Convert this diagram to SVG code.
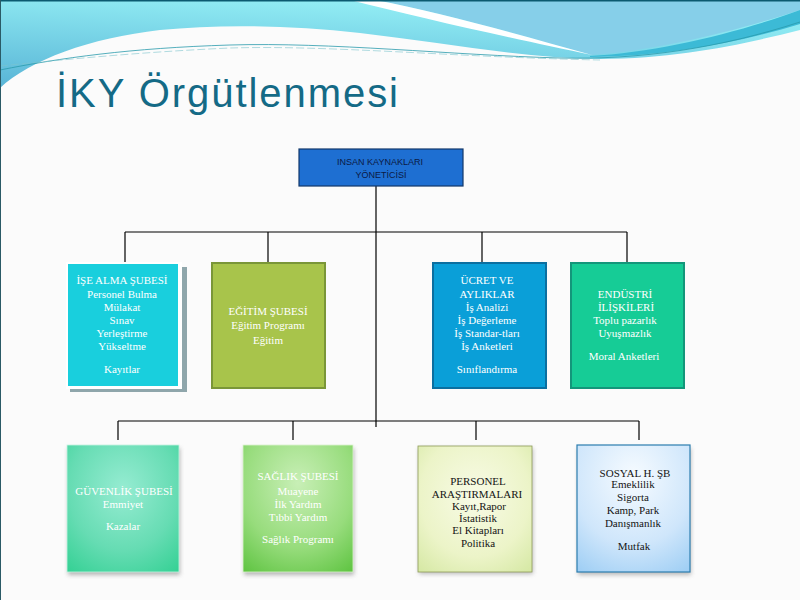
<svg xmlns="http://www.w3.org/2000/svg" width="800" height="600" viewBox="0 0 800 600">
<defs>
<style>
.t{font-family:"Liberation Serif","Times New Roman",serif;font-size:11px;text-anchor:middle}
.w{fill:#ffffff}
.d{fill:#141414}
.top{font-family:"Liberation Sans",Arial,sans-serif;font-size:9px;text-anchor:middle;fill:#0b1a44}
.ln{stroke:#000;stroke-width:1.2;fill:none}
</style>
<linearGradient id="cy" x1="0.4" y1="0" x2="0" y2="1">
<stop offset="0" stop-color="#92edf4"/>
<stop offset="1" stop-color="#58b4d6"/>
</linearGradient>
<radialGradient id="gGuv" cx="0.5" cy="0.35" r="0.8">
<stop offset="0" stop-color="#96ecd2"/>
<stop offset="0.6" stop-color="#66dcb3"/>
<stop offset="1" stop-color="#36d195"/>
</radialGradient>
<radialGradient id="gSag" cx="0.5" cy="0.3" r="0.85">
<stop offset="0" stop-color="#c8efb6"/>
<stop offset="0.6" stop-color="#97dc7c"/>
<stop offset="1" stop-color="#5fc442"/>
</radialGradient>
<radialGradient id="gPer" cx="0.5" cy="0.4" r="0.8">
<stop offset="0" stop-color="#f8fbe6"/>
<stop offset="0.6" stop-color="#ecf4c8"/>
<stop offset="1" stop-color="#d3e7a0"/>
</radialGradient>
<radialGradient id="gSos" cx="0.5" cy="0.25" r="0.9">
<stop offset="0" stop-color="#f6fbff"/>
<stop offset="0.6" stop-color="#cfe6fb"/>
<stop offset="1" stop-color="#9ccdf4"/>
</radialGradient>
<filter id="sh" x="-20%" y="-20%" width="140%" height="140%">
<feGaussianBlur stdDeviation="2"/>
</filter>
</defs>

<rect x="0" y="0" width="800" height="600" fill="#fbfbfb"/>

<g id="header">
<path d="M0,88 C30,60 90,38 160,30 C220,24 290,25 360,33 C440,42 520,58 600,59 C680,58 740,45 800,30 L800,0 L0,0 Z" fill="url(#cy)"/>
<path d="M375,0 C440,12 520,35 592,55 C660,50 740,30 800,10 L800,0 Z" fill="#86cfe9"/>
<path d="M590,56 C660,52 740,32 800,10 L800,24 C740,42 670,56 590,57 Z" fill="#3cbad6"/>
<path d="M350,0 C420,18 520,40 592,55 C520,35 440,12 375,0 Z" fill="#ffffff"/>
<path d="M0,70 C60,58 130,48 230,45 C330,42 450,55 560,58 C640,60 720,48 800,22" fill="none" stroke="#2a9aac" stroke-width="0.8"/>
<path d="M0,66 C60,60 140,52 230,48 C330,45 450,57 600,60" fill="none" stroke="#7cc4cc" stroke-width="0.6" stroke-dasharray="8 3"/>
<line x1="0" y1="0.75" x2="800" y2="0.75" stroke="#0b5a70" stroke-width="1.5"/>
<line x1="0.5" y1="0" x2="0.5" y2="600" stroke="#2a5a66" stroke-width="1"/>
<text x="56" y="107" font-family="'Liberation Sans',Arial,sans-serif" font-size="40" fill="#146a86" textLength="342" lengthAdjust="spacing">İKY Örgütlenmesi</text>
</g>

<g id="connectors">
<line class="ln" x1="376" y1="186" x2="376" y2="427"/>
<line class="ln" x1="125" y1="232" x2="627" y2="232"/>
<line class="ln" x1="125" y1="232" x2="125" y2="264"/>
<line class="ln" x1="268" y1="232" x2="268" y2="262"/>
<line class="ln" x1="482" y1="232" x2="482" y2="262"/>
<line class="ln" x1="627" y1="232" x2="627" y2="262"/>
<line class="ln" x1="118" y1="421" x2="639" y2="421"/>
<line class="ln" x1="118" y1="421" x2="118" y2="440"/>
<line class="ln" x1="293" y1="421" x2="293" y2="440"/>
<line class="ln" x1="476" y1="421" x2="476" y2="440"/>
<line class="ln" x1="639" y1="421" x2="639" y2="440"/>
</g>

<g id="node-top">
<rect x="299" y="149" width="164" height="37" fill="#1e6fd2" stroke="#12386a" stroke-width="1.2"/>
<text class="top" x="380" y="165">INSAN KAYNAKLARI</text>
<text class="top" x="381" y="178">YÖNETİCİSİ</text>
</g>

<g id="node-ise">
<rect x="70" y="267" width="117" height="125" fill="#8fa6ab"/>
<rect x="66" y="262" width="116" height="127" fill="#ffffff"/>
<rect x="68" y="264" width="110" height="122" fill="#19cfdd"/>
<text class="t w" x="122" y="283.5">İŞE ALMA ŞUBESİ</text>
<text class="t w" x="122" y="298">Personel Bulma</text>
<text class="t w" x="122" y="311">Mülakat</text>
<text class="t w" x="122" y="324">Sınav</text>
<text class="t w" x="122" y="337">Yerleştirme</text>
<text class="t w" x="122" y="350">Yükseltme</text>
<text class="t w" x="122" y="373">Kayıtlar</text>
</g>

<g id="node-egitim">
<rect x="212" y="263" width="113" height="125" fill="#a8c44b" stroke="#7a9638" stroke-width="2"/>
<text class="t w" x="268" y="315">EĞİTİM ŞUBESİ</text>
<text class="t w" x="268" y="328.5">Eğitim Programı</text>
<text class="t w" x="268" y="344">Eğitim</text>
</g>

<g id="node-ucret">
<rect x="433" y="263" width="113" height="125" fill="#0a9fd8" stroke="#0b6fa0" stroke-width="2"/>
<text class="t w" x="487" y="284">ÜCRET VE</text>
<text class="t w" x="487" y="297.5">AYLIKLAR</text>
<text class="t w" x="487" y="311">İş Analizi</text>
<text class="t w" x="487" y="324">İş Değerleme</text>
<text class="t w" x="487" y="337">İş Standar-tları</text>
<text class="t w" x="487" y="350">İş Anketleri</text>
<text class="t w" x="487" y="373">Sınıflandırma</text>
</g>

<g id="node-endustri">
<rect x="571" y="263" width="113" height="125" fill="#16cc96" stroke="#13967a" stroke-width="2"/>
<text class="t w" x="625" y="297.5">ENDÜSTRİ</text>
<text class="t w" x="626" y="311">İLİŞKİLERİ</text>
<text class="t w" x="625" y="324">Toplu pazarlık</text>
<text class="t w" x="625" y="337">Uyuşmazlık</text>
<text class="t w" x="624" y="359.5">Moral Anketleri</text>
</g>

<g id="node-guvenlik">
<rect x="68" y="448" width="112" height="127" fill="#7a7a7a" opacity="0.55" filter="url(#sh)"/>
<rect x="67" y="445" width="112" height="127" fill="url(#gGuv)" stroke="#c8f4e4" stroke-width="0.8"/>
<text class="t w" x="124" y="495">GÜVENLİK ŞUBESİ</text>
<text class="t w" x="123" y="507.5">Emmiyet</text>
<text class="t w" x="123" y="529.5">Kazalar</text>
</g>

<g id="node-saglik">
<rect x="244" y="448" width="110" height="127" fill="#7a7a7a" opacity="0.55" filter="url(#sh)"/>
<rect x="243" y="445" width="110" height="127" fill="url(#gSag)" stroke="#dff5d2" stroke-width="0.8"/>
<text class="t w" x="298" y="480">SAĞLIK ŞUBESİ</text>
<text class="t w" x="298" y="494.5">Muayene</text>
<text class="t w" x="298" y="507.5">İlk Yardım</text>
<text class="t w" x="298" y="520.5">Tıbbi Yardım</text>
<text class="t w" x="298" y="542.5">Sağlık Programı</text>
</g>

<g id="node-personel">
<rect x="419" y="448" width="114" height="126" fill="#7a7a7a" opacity="0.5" filter="url(#sh)"/>
<rect x="418" y="446" width="114" height="126" fill="url(#gPer)" stroke="#8e9c58" stroke-width="0.8"/>
<text class="t d" x="478" y="485">PERSONEL</text>
<text class="t d" x="477" y="497.5">ARAŞTIRMALARI</text>
<text class="t d" x="479" y="510">Kayıt,Rapor</text>
<text class="t d" x="478" y="521.5">İstatistik</text>
<text class="t d" x="478" y="534">El Kitapları</text>
<text class="t d" x="478" y="546.5">Politika</text>
</g>

<g id="node-sosyal">
<rect x="578" y="448" width="113" height="127" fill="#7a7a7a" opacity="0.5" filter="url(#sh)"/>
<rect x="577" y="445" width="113" height="127" fill="url(#gSos)" stroke="#2c7eb0" stroke-width="1.2"/>
<text class="t d" x="635" y="476.5">SOSYAL H. ŞB</text>
<text class="t d" x="633" y="487.5">Emeklilik</text>
<text class="t d" x="633" y="500.5">Sigorta</text>
<text class="t d" x="633" y="513.5">Kamp, Park</text>
<text class="t d" x="633" y="526.5">Danışmanlık</text>
<text class="t d" x="634" y="550">Mutfak</text>
</g>
</svg>
